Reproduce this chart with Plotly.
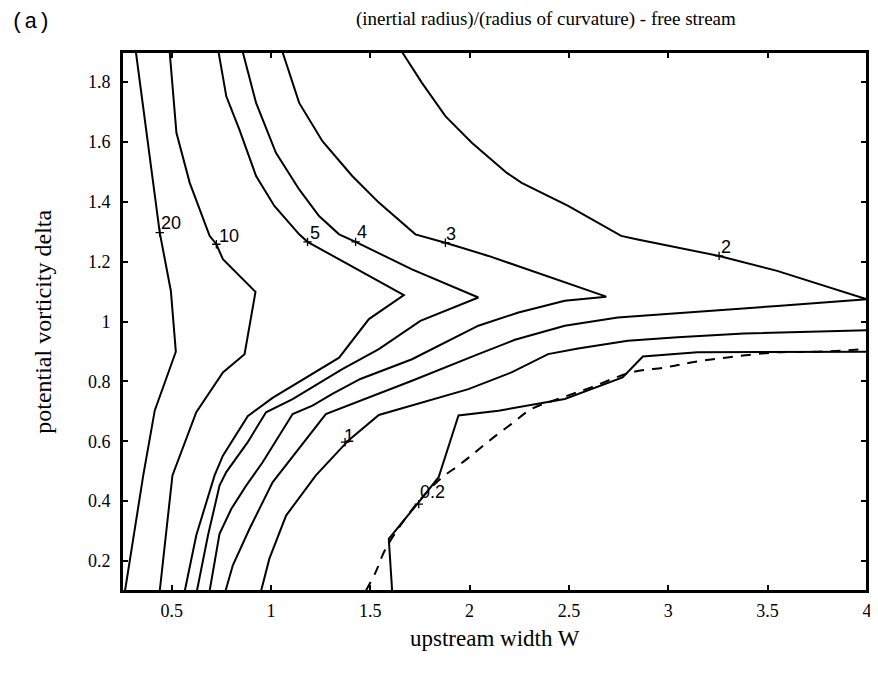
import plotly.graph_objects as go

# ---- axis ticks ----
x_tickvals = [0.5, 1, 1.5, 2, 2.5, 3, 3.5, 4]
x_ticktext = ["0.5", "1", "1.5", "2", "2.5", "3", "3.5", "4"]
y_tickvals = [0.2, 0.4, 0.6, 0.8, 1.0, 1.2, 1.4, 1.6, 1.8]
y_ticktext = ["0.2", "0.4", "0.6", "0.8", "1", "1.2", "1.4", "1.6", "1.8"]

# ---- contour lines ----
c20_x = [0.32, 0.44, 0.496, 0.521, 0.415, 0.357, 0.265]
c20_y = [1.9, 1.297, 1.102, 0.899, 0.703, 0.486, 0.1]

c10_x = [0.49, 0.524, 0.591, 0.691, 0.725, 0.758, 0.922, 0.867, 0.758, 0.624, 0.504, 0.44]
c10_y = [1.9, 1.63, 1.463, 1.286, 1.258, 1.208, 1.099, 0.891, 0.83, 0.697, 0.486, 0.1]

c5_x = [0.736, 0.775, 0.841, 0.925, 1.017, 1.142, 1.184, 1.669, 1.493, 1.343, 1.008,
        0.883, 0.758, 0.716, 0.624, 0.566]
c5_y = [1.9, 1.752, 1.641, 1.486, 1.386, 1.291, 1.266, 1.088, 1.008, 0.879, 0.745,
        0.684, 0.552, 0.486, 0.286, 0.1]

c4_x = [0.858, 0.925, 1.025, 1.142, 1.242, 1.343, 1.426, 1.71, 2.044, 1.752, 1.543,
        1.359, 1.109, 0.975, 0.883, 0.775, 0.741, 0.683, 0.627]
c4_y = [1.9, 1.73, 1.563, 1.441, 1.352, 1.291, 1.266, 1.174, 1.08, 1.002, 0.908,
        0.841, 0.741, 0.697, 0.597, 0.497, 0.452, 0.286, 0.1]

c3_x = [1.058, 1.142, 1.259, 1.409, 1.543, 1.727, 1.878, 2.095, 2.688, 2.479, 2.246,
        2.044, 1.71, 1.45, 1.309, 1.209, 1.109, 1.042, 0.958, 0.875, 0.8, 0.741, 0.691]
c3_y = [1.9, 1.73, 1.602, 1.486, 1.397, 1.291, 1.263, 1.219, 1.083, 1.069, 1.03,
        0.986, 0.874, 0.808, 0.758, 0.719, 0.691, 0.619, 0.53, 0.452, 0.374, 0.291, 0.1]

c2_x = [1.66, 1.76, 1.878, 2.011, 2.186, 2.262, 2.496, 2.763, 2.846, 3.256, 3.548, 3.782, 4.0,
        3.548, 3.047, 2.746, 2.479, 2.228, 2.044, 1.71, 1.276, 1.126, 1.008, 0.892, 0.808, 0.771]
c2_y = [1.9, 1.797, 1.686, 1.597, 1.497, 1.463, 1.386, 1.286, 1.274, 1.219, 1.169, 1.119, 1.074,
        1.052, 1.027, 1.013, 0.986, 0.939, 0.891, 0.802, 0.691, 0.563, 0.463, 0.308, 0.186, 0.1]

c1_x = [4.0, 3.381, 3.047, 2.796, 2.546, 2.395, 2.211, 2.044, 1.994, 1.543, 1.39,
        1.226, 1.076, 0.992, 0.95]
c1_y = [0.971, 0.96, 0.947, 0.936, 0.91, 0.891, 0.83, 0.786, 0.774, 0.688, 0.603,
        0.486, 0.352, 0.208, 0.1]

c02_x = [1.61, 1.593, 1.744, 1.844, 1.944, 2.145, 2.479, 2.77, 2.872, 3.147, 4.0]
c02_y = [0.1, 0.274, 0.397, 0.48, 0.686, 0.702, 0.741, 0.813, 0.883, 0.897, 0.899]

# dashed reference curve
dash_x = [1.477, 1.527, 1.577, 1.72, 1.852, 1.944, 2.028, 2.111, 2.211, 2.312, 2.445,
          2.612, 2.813, 2.988, 3.114, 3.298, 3.548, 3.749, 4.0]
dash_y = [0.1, 0.163, 0.241, 0.38, 0.474, 0.519, 0.563, 0.608, 0.658, 0.708, 0.741,
          0.78, 0.83, 0.847, 0.863, 0.88, 0.897, 0.899, 0.908]

# contour labels
label_text = ["20", "10", "5", "4", "3", "2", "1", "0.2"]
label_x = [0.495, 0.787, 1.22, 1.46, 1.905, 3.29, 1.392, 1.815]
label_y = [1.33, 1.286, 1.294, 1.299, 1.291, 1.25, 0.619, 0.432]
mark_x = [0.44, 0.725, 1.184, 1.426, 1.878, 3.256, 1.373, 1.744]
mark_y = [1.297, 1.258, 1.266, 1.266, 1.263, 1.219, 0.597, 0.39]

contours = [(c20_x, c20_y), (c10_x, c10_y), (c5_x, c5_y), (c4_x, c4_y),
            (c3_x, c3_y), (c2_x, c2_y), (c1_x, c1_y), (c02_x, c02_y)]

fig = go.Figure()
for cx, cy in contours:
    fig.add_trace(go.Scatter(x=cx, y=cy, mode="lines",
                             line=dict(color="black", width=2),
                             hoverinfo="skip", showlegend=False))

fig.add_trace(go.Scatter(x=dash_x, y=dash_y, mode="lines",
                         line=dict(color="black", width=2, dash="10px,8px", shape="spline"),
                         hoverinfo="skip", showlegend=False))

fig.add_trace(go.Scatter(x=mark_x, y=mark_y, mode="markers",
                         marker=dict(symbol="cross-thin", size=6,
                                     line=dict(color="black", width=1.3)),
                         hoverinfo="skip", showlegend=False))

for t, lx, ly in zip(label_text, label_x, label_y):
    fig.add_annotation(x=lx, y=ly, text=t, showarrow=False,
                       xanchor="center", yanchor="middle",
                       font=dict(family="Liberation Sans", size=18, color="black"))

serif = "Liberation Serif"
fig.add_annotation(xref="paper", yref="paper", x=0.569, y=1.061,
                   xanchor="center", yanchor="middle",
                   text="(inertial radius)/(radius of curvature) - free stream",
                   showarrow=False, font=dict(family=serif, size=19, color="black"))
fig.add_annotation(xref="paper", yref="paper", x=-0.1522, y=1.0816,
                   xanchor="left", yanchor="top",
                   text="(a)", showarrow=False,
                   font=dict(family="Liberation Mono", size=22, color="black"))
fig.add_annotation(xref="paper", yref="paper", x=0.5, y=-0.0872,
                   xanchor="center", yanchor="middle",
                   text="upstream width W", showarrow=False,
                   font=dict(family=serif, size=23, color="black"))
fig.add_annotation(xref="paper", yref="paper", x=-0.107, y=0.5, textangle=-90,
                   xanchor="center", yanchor="middle",
                   text="potential vorticity delta", showarrow=False,
                   font=dict(family=serif, size=24, color="black"))

# plot frame
fig.add_shape(type="rect", xref="paper", yref="paper", x0=0, y0=0, x1=1, y1=1,
              line=dict(color="black", width=2), layer="above")

axis_common = dict(showline=True, linecolor="black", linewidth=2, mirror="ticks",
                   ticks="inside", ticklen=6, tickwidth=1.5, tickcolor="black",
                   showgrid=False, zeroline=False, ticklabeloverflow="allow",
                   tickfont=dict(family=serif, size=18, color="black"))

fig.update_xaxes(range=[0.25, 4.0005], tickvals=x_tickvals, ticktext=x_ticktext,
                 ticklabelstandoff=2, **axis_common)
fig.update_yaxes(range=[0.1, 1.9], tickvals=y_tickvals, ticktext=y_ticktext,
                 ticklabelstandoff=6, **axis_common)

# the page body adds an 8px offset; size the figure to fit the 878x676 window
fig.update_layout(width=870, height=668, plot_bgcolor="white", paper_bgcolor="white",
                  margin=dict(l=114, r=7, t=44, b=85), showlegend=False)

fig.write_html("out.html")
